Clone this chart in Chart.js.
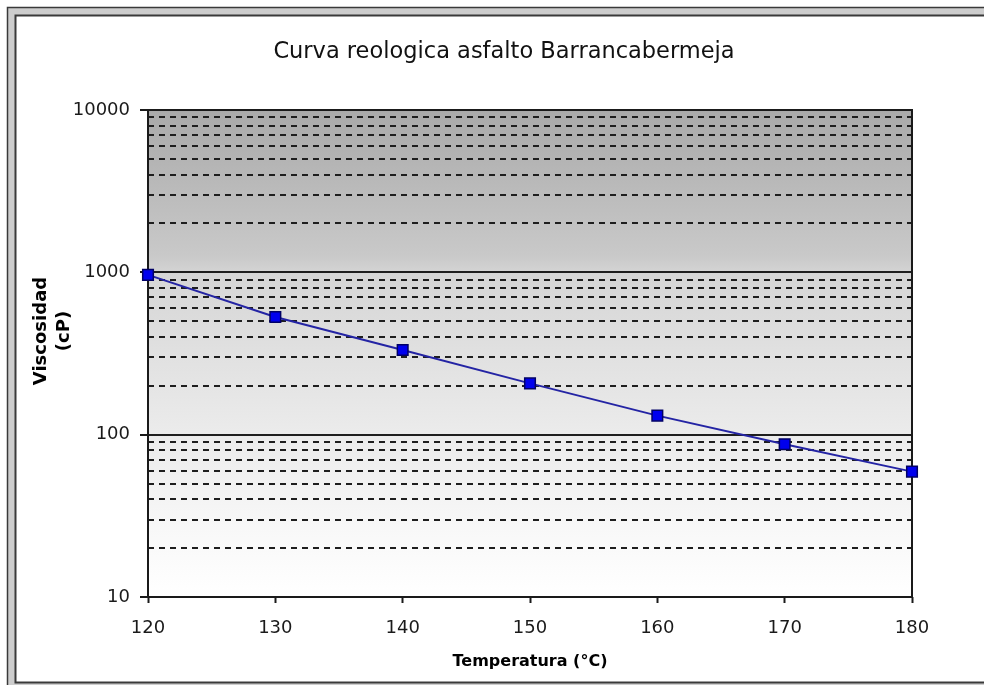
<!DOCTYPE html>
<html>
<head>
<meta charset="utf-8">
<script src="https://cdn.jsdelivr.net/npm/chart.js@4.4.1/dist/chart.umd.min.js"></script>
<style>
  html, body { margin: 0; padding: 0; overflow: hidden; background: #fff; }
  #wrap { width: 1008px; height: 685px; }
</style>
</head>
<body>
<div id="wrap"><canvas id="c" width="1008" height="685"></canvas></div>
<script>
// Rheological curve data: temperature (°C) vs viscosity (cP)
const temperatures = [120, 130, 140, 150, 160, 170, 180];
const viscosities = [964, 531, 332, 207, 131, 87.3, 59.2];

// Labelled decades on the logarithmic viscosity axis
const yTickLabels = [10, 100, 1000, 10000];
const xTickStep = 10;

const chartTitle = 'Curva reologica asfalto Barrancabermeja';
const xAxisTitle = 'Temperatura (°C)';
const yAxisTitle = ['Viscosidad', '(cP)'];

const FONT = 'DejaVu Sans';

function isDecade(v) {
  if (!(v > 0)) return false;
  const l = Math.log10(v);
  return Math.abs(l - Math.round(l)) < 1e-9;
}

// keep only 1..9 × 10^n ticks on the log axis
function isWholeSignificand(v) {
  const e = Math.floor(Math.log10(v) + 1e-9);
  const s = v / Math.pow(10, e);
  return Math.abs(s - Math.round(s)) < 1e-6;
}

// Outer frame of the chart object and shaded plot background
const framePlugin = {
  id: 'frame',
  beforeDraw(chart) {
    const ctx = chart.ctx;
    const W = chart.width, H = chart.height;
    const a = chart.chartArea;
    ctx.save();
    ctx.fillStyle = '#ffffff';
    ctx.fillRect(0, 0, W, H);
    // double frame with a grey band
    ctx.fillStyle = '#cdcdcd';
    ctx.fillRect(7, 7, W - 14, H + 10);
    ctx.fillStyle = '#ffffff';
    ctx.fillRect(16, 16, W - 32, 682 - 16);
    ctx.strokeStyle = '#3a3a3a';
    ctx.lineWidth = 1.5;
    ctx.strokeRect(7.5, 7.5, W - 15, H + 10);
    ctx.lineWidth = 2;
    ctx.strokeRect(15.5, 15.5, W - 31, 682.5 - 15.5);
    // plot area gradient, dark grey at the top fading to white
    const g = ctx.createLinearGradient(0, a.top, 0, a.bottom);
    g.addColorStop(0.0, '#a9a9a9');
    g.addColorStop(0.30, '#c9c9c9');
    g.addColorStop(0.34, '#d6d6d6');
    g.addColorStop(0.66, '#ebebeb');
    g.addColorStop(0.86, '#f8f8f8');
    g.addColorStop(1.0, '#ffffff');
    ctx.fillStyle = g;
    ctx.fillRect(a.left, a.top, a.right - a.left, a.bottom - a.top);
    ctx.restore();
  }
};

// Solid border around the plot area, under the data series
const plotBorderPlugin = {
  id: 'plotBorder',
  beforeDatasetsDraw(chart) {
    const ctx = chart.ctx, a = chart.chartArea;
    ctx.save();
    ctx.strokeStyle = '#1a1a1a';
    ctx.lineWidth = 2;
    ctx.strokeRect(a.left, a.top, a.right - a.left, a.bottom - a.top);
    ctx.restore();
  }
};

// Two-line rotated title of the viscosity axis
const yTitlePlugin = {
  id: 'yTitle',
  afterDraw(chart) {
    const ctx = chart.ctx;
    ctx.save();
    ctx.fillStyle = '#000';
    ctx.font = 'bold 18px "' + FONT + '"';
    ctx.textAlign = 'center';
    ctx.textBaseline = 'middle';
    const xs = [41, 64];
    yAxisTitle.forEach((line, i) => {
      ctx.save();
      ctx.translate(xs[i], 331);
      ctx.rotate(-Math.PI / 2);
      ctx.fillText(line, 0, 0);
      ctx.restore();
    });
    ctx.restore();
  }
};

new Chart(document.getElementById('c'), {
  type: 'line',
  data: {
    datasets: [{
      data: temperatures.map((t, i) => ({ x: t, y: viscosities[i] })),
      borderColor: '#2424a4',
      borderWidth: 2,
      pointStyle: 'rect',
      pointRadius: 7.5,
      pointHoverRadius: 7.5,
      pointBackgroundColor: '#0000ee',
      pointBorderColor: '#000066',
      pointBorderWidth: 1.5,
      tension: 0,
      clip: false
    }]
  },
  options: {
    responsive: false,
    animation: false,
    devicePixelRatio: 1,
    layout: { padding: 0 },
    plugins: {
      legend: { display: false },
      tooltip: { enabled: false },
      title: {
        display: true,
        text: chartTitle,
        color: '#111',
        font: { family: FONT, size: 22.5, weight: 'normal', lineHeight: 1.2 },
        padding: { top: 39, bottom: 44 }
      }
    },
    scales: {
      x: {
        type: 'linear',
        min: temperatures[0],
        max: temperatures[temperatures.length - 1],
        afterFit(s) {
          s.height = 88;
          // reserve the blank strip right of the plot area
          s.paddingRight = 96;
        },
        ticks: {
          stepSize: xTickStep,
          padding: 15,
          color: '#1a1a1a',
          font: { family: FONT, size: 18 }
        },
        grid: {
          drawOnChartArea: false,
          tickLength: 6,
          tickColor: '#1a1a1a',
          tickWidth: 2
        },
        border: { display: false },
        title: {
          display: true,
          text: xAxisTitle,
          color: '#000',
          font: { family: FONT, size: 16, weight: 'bold', lineHeight: 1.2 },
          padding: { top: 0, bottom: 14 }
        }
      },
      y: {
        type: 'logarithmic',
        min: yTickLabels[0],
        max: yTickLabels[yTickLabels.length - 1],
        afterFit(s) { s.width = 148; },
        afterBuildTicks(s) {
          s.ticks = s.ticks.filter(t => isWholeSignificand(t.value));
        },
        ticks: {
          autoSkip: false,
          padding: 10,
          color: '#1a1a1a',
          font: { family: FONT, size: 18 },
          callback(v) {
            return yTickLabels.some(t => Math.abs(t - v) < 1e-6) ? String(Math.round(v)) : '';
          }
        },
        grid: {
          color: '#1e1e1e',
          lineWidth: 2,
          tickLength: 8,
          tickWidth: 2,
          tickColor: ctx => (ctx.tick && isDecade(ctx.tick.value)) ? '#1a1a1a' : 'rgba(0,0,0,0)'
        },
        border: {
          display: false,
          dash: ctx => (ctx.tick && !isDecade(ctx.tick.value)) ? [6, 5] : []
        }
      }
    }
  },
  plugins: [framePlugin, plotBorderPlugin, yTitlePlugin]
});
</script>
</body>
</html>
